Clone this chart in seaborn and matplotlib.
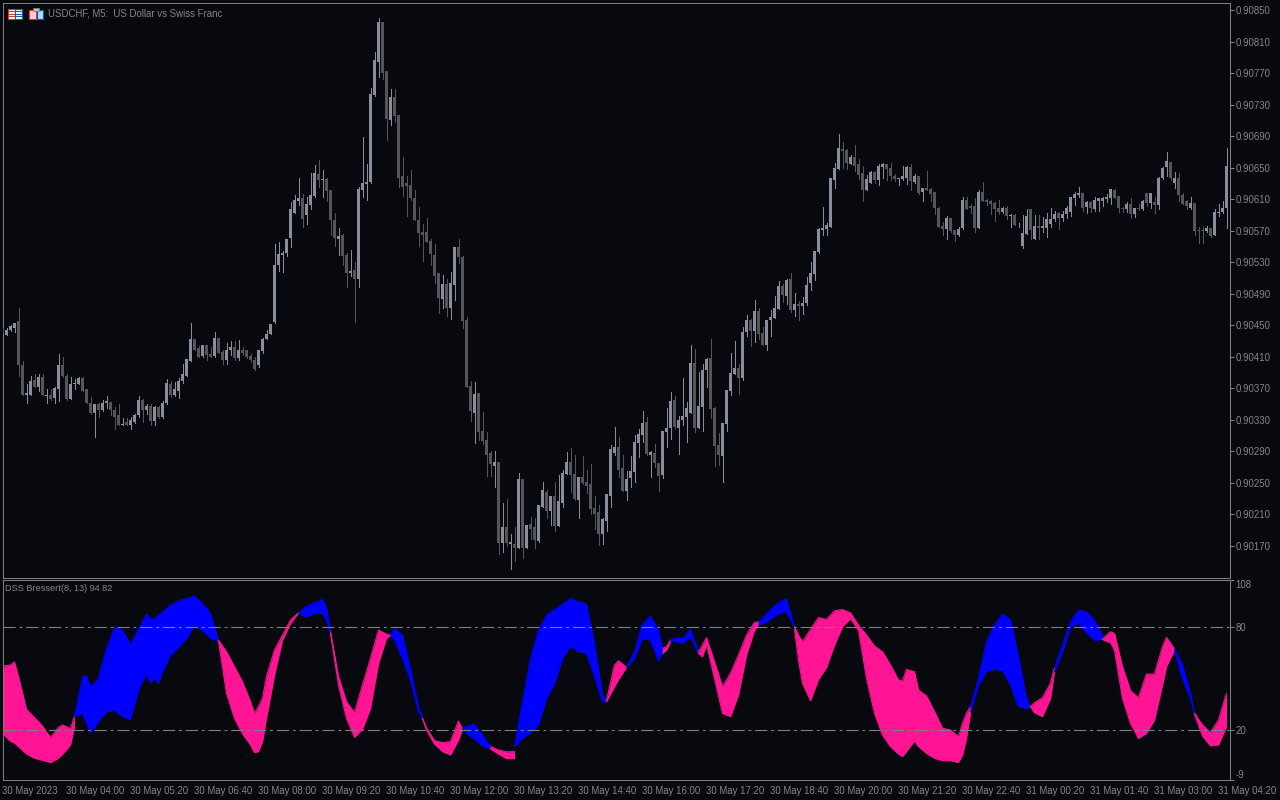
import numpy as np
import seaborn as sns
import matplotlib.pyplot as plt
from matplotlib.patches import Rectangle

# USDCHF M5 prices, in points (1 point = 0.00001)
opens = [
    90447,90438,90444,90446,90455,90400,90362,90362,90381,90372,
    90385,90360,90361,90358,90369,90400,90386,90357,90375,90376,
    90383,90369,90352,90339,90350,90342,90352,90353,90343,90336,
    90324,90327,90324,90327,90336,90355,90343,90348,90328,90346,
    90333,90351,90376,90362,90367,90379,90386,90405,90433,90421,
    90411,90425,90414,90411,90434,90416,90406,90418,90423,90408,
    90419,90418,90411,90406,90399,90417,90433,90439,90454,90527,
    90539,90542,90561,90593,90608,90611,90590,90602,90614,90642,
    90634,90635,90621,90583,90560,90564,90539,90516,90520,90509,
    90621,90629,90632,90742,90784,90835,90773,90710,90739,90717,
    90639,90630,90628,90612,90584,90568,90568,90557,90539,90516,
    90483,90502,90472,90501,90549,90537,90457,90373,90339,90364,
    90316,90304,90288,90272,90277,90174,90194,90172,90173,90167,
    90255,90167,90198,90194,90176,90220,90239,90215,90233,90195,
    90225,90261,90276,90261,90228,90257,90251,90248,90218,90213,
    90185,90202,90234,90288,90295,90269,90240,90256,90264,90301,
    90311,90327,90285,90288,90275,90260,90314,90320,90355,90320,
    90330,90334,90339,90402,90320,90346,90393,90408,90345,90298,
    90284,90325,90367,90388,90396,90383,90441,90457,90443,90468,
    90440,90425,90457,90459,90471,90500,90487,90509,90469,90477,
    90474,90478,90504,90515,90543,90571,90572,90575,90634,90648,
    90674,90673,90655,90664,90654,90643,90622,90631,90645,90634,
    90651,90654,90650,90640,90636,90636,90637,90651,90632,90640,
    90619,90624,90623,90619,90599,90576,90572,90586,90571,90565,
    90574,90609,90601,90601,90574,90619,90609,90608,90605,90599,
    90594,90599,90589,90590,90578,90551,90566,90598,90559,90576,
    90573,90574,90578,90585,90592,90586,90591,90594,90611,90615,
    90618,90600,90606,90597,90608,90608,90610,90611,90621,90614,
    90599,90597,90604,90591,90599,90597,90618,90605,90606,90602,
    90637,90651,90657,90630,90637,90615,90608,90599,90605,90571,
    90571,90569,90574,90564,90592,90594,90599,
]
highs = [
    90447,90447,90450,90453,90472,90405,90376,90386,90388,90388,
    90388,90369,90369,90372,90414,90410,90388,90384,90382,90385,
    90384,90369,90359,90350,90352,90355,90360,90353,90346,90350,
    90332,90332,90333,90337,90360,90356,90350,90350,90348,90347,
    90354,90382,90379,90378,90383,90401,90407,90453,90433,90424,
    90425,90425,90423,90442,90434,90419,90427,90430,90430,90431,
    90423,90419,90414,90410,90419,90434,90444,90452,90553,90556,
    90544,90560,90607,90615,90637,90616,90613,90643,90653,90660,
    90647,90637,90622,90593,90573,90566,90542,90546,90530,90626,
    90689,90654,90751,90797,90840,90835,90773,90750,90750,90717,
    90664,90639,90647,90622,90600,90579,90586,90560,90553,90516,
    90514,90509,90517,90549,90559,90538,90460,90379,90378,90364,
    90340,90315,90291,90291,90277,90225,90230,90185,90194,90263,
    90255,90197,90207,90205,90222,90251,90241,90233,90251,90260,
    90267,90289,90294,90286,90257,90284,90266,90274,90234,90222,
    90205,90236,90298,90321,90308,90285,90265,90284,90311,90319,
    90341,90333,90290,90299,90275,90316,90345,90365,90360,90335,
    90383,90353,90425,90420,90391,90401,90408,90433,90346,90313,
    90326,90368,90415,90430,90401,90448,90463,90458,90482,90472,
    90448,90457,90469,90487,90506,90502,90509,90516,90491,90481,
    90486,90511,90530,90544,90574,90600,90580,90637,90656,90693,
    90683,90674,90666,90679,90661,90652,90641,90646,90646,90655,
    90656,90655,90656,90642,90637,90652,90652,90655,90642,90640,
    90624,90646,90624,90619,90600,90581,90589,90586,90571,90575,
    90613,90613,90604,90612,90621,90632,90610,90609,90607,90609,
    90600,90601,90591,90591,90580,90590,90598,90598,90590,90590,
    90587,90592,90599,90595,90594,90595,90601,90613,90619,90625,
    90618,90608,90608,90613,90611,90613,90616,90623,90623,90614,
    90600,90606,90611,90599,90604,90609,90618,90618,90613,90638,
    90651,90670,90657,90644,90643,90618,90609,90613,90605,90575,
    90575,90576,90574,90597,90604,90608,90675,
]
lows = [
    90439,90438,90443,90441,90386,90362,90352,90362,90372,90367,
    90361,90352,90355,90352,90354,90384,90355,90357,90369,90375,
    90367,90351,90337,90308,90334,90341,90345,90336,90319,90323,
    90323,90323,90319,90326,90334,90327,90337,90324,90323,90332,
    90332,90350,90359,90360,90358,90377,90386,90405,90419,90410,
    90410,90406,90410,90410,90415,90401,90401,90412,90406,90406,
    90412,90409,90403,90393,90397,90415,90432,90439,90453,90519,
    90518,90538,90549,90593,90602,90575,90578,90597,90613,90626,
    90613,90608,90564,90550,90539,90527,90499,90512,90454,90499,
    90613,90609,90631,90741,90765,90762,90685,90704,90708,90626,
    90614,90589,90609,90583,90550,90532,90556,90526,90504,90466,
    90472,90462,90458,90482,90529,90447,90372,90329,90301,90304,
    90299,90259,90259,90245,90160,90162,90170,90141,90151,90167,
    90155,90167,90179,90167,90175,90220,90206,90197,90189,90195,
    90219,90261,90238,90228,90206,90248,90237,90211,90192,90171,
    90173,90189,90220,90286,90258,90240,90228,90245,90251,90283,
    90302,90285,90258,90270,90240,90256,90296,90306,90320,90287,
    90324,90302,90339,90314,90320,90316,90372,90332,90271,90273,
    90251,90316,90361,90388,90363,90380,90436,90424,90429,90433,
    90425,90419,90436,90459,90471,90480,90477,90467,90462,90457,
    90464,90476,90495,90508,90542,90565,90565,90575,90624,90648,
    90649,90648,90655,90646,90636,90608,90622,90631,90631,90628,
    90637,90634,90634,90633,90628,90634,90629,90621,90631,90617,
    90608,90621,90608,90591,90575,90565,90560,90568,90557,90563,
    90572,90598,90593,90568,90574,90608,90603,90591,90582,90591,
    90593,90585,90575,90577,90575,90548,90566,90560,90559,90559,
    90568,90562,90575,90582,90572,90582,90586,90588,90602,90613,
    90595,90592,90594,90595,90595,90601,90606,90604,90611,90594,
    90594,90594,90586,90587,90596,90596,90601,90599,90592,90597,
    90635,90639,90634,90624,90608,90604,90597,90597,90564,90555,
    90555,90568,90562,90564,90588,90592,90573,
]
closes = [
    90439,90444,90449,90453,90399,90362,90364,90379,90372,90384,
    90361,90361,90357,90370,90400,90386,90357,90375,90377,90383,
    90367,90351,90339,90350,90342,90351,90354,90343,90334,90324,
    90325,90324,90330,90336,90355,90343,90348,90328,90346,90333,
    90351,90377,90362,90369,90379,90388,90407,90433,90419,90410,
    90425,90412,90410,90434,90415,90406,90419,90423,90408,90419,
    90415,90410,90406,90395,90419,90433,90439,90452,90526,90540,
    90542,90560,90597,90609,90612,90585,90604,90615,90643,90634,
    90635,90620,90583,90561,90563,90538,90516,90519,90509,90623,
    90631,90632,90744,90786,90835,90770,90712,90739,90715,90637,
    90626,90627,90611,90583,90567,90565,90556,90540,90512,90484,
    90502,90472,90503,90549,90537,90455,90372,90341,90363,90315,
    90303,90285,90274,90277,90174,90194,90174,90175,90168,90255,
    90167,90196,90192,90177,90222,90241,90215,90233,90195,90227,
    90262,90276,90260,90229,90257,90250,90246,90217,90211,90185,
    90204,90236,90293,90295,90267,90240,90255,90265,90302,90312,
    90326,90287,90289,90275,90259,90316,90320,90354,90321,90330,
    90335,90345,90402,90320,90348,90393,90407,90344,90297,90285,
    90326,90368,90389,90396,90383,90441,90457,90443,90468,90439,
    90425,90457,90461,90472,90500,90488,90507,90469,90477,90474,
    90478,90501,90516,90544,90572,90574,90577,90637,90650,90675,
    90671,90656,90664,90652,90641,90622,90636,90645,90634,90652,
    90655,90648,90640,90636,90637,90640,90651,90633,90640,90618,
    90624,90622,90617,90599,90575,90572,90586,90570,90565,90572,
    90609,90598,90599,90574,90619,90608,90607,90604,90598,90594,
    90599,90589,90590,90577,90579,90567,90589,90571,90576,90573,
    90576,90585,90585,90591,90586,90591,90599,90613,90616,90618,
    90599,90606,90599,90609,90611,90611,90613,90623,90611,90599,
    90597,90604,90591,90599,90597,90608,90605,90618,90602,90637,
    90649,90658,90637,90637,90615,90604,90601,90605,90569,90569,
    90569,90574,90563,90594,90594,90599,90652,
]

# DSS band outline. A repeated bar marks where the colour flips, runs alternate pink/blue
dss_bars = [
    0,2,3,4,6,8,10,12,14,15,17,18,
    18,20,21,22,24,26,28,30,32,34,36,37,38,39,40,42,44,46,48,50,52,54,
    54,56,58,60,62,63,64,65,66,68,70,72,74,
    74,76,78,80,81,82,
    82,84,86,88,90,92,94,96,97,
    97,98,100,102,104,105,
    105,106,108,110,112,114,115,
    115,116,118,120,122,
    122,124,126,128,
    128,130,132,134,136,138,140,142,144,146,148,150,151,
    151,153,154,156,
    156,158,160,162,164,165,
    165,166,167,
    167,168,170,172,174,
    174,175,176,178,180,182,184,186,188,189,
    189,191,193,195,196,198,
    198,199,200,202,204,206,208,210,212,214,216,218,220,222,224,225,226,228,229,231,233,235,237,239,240,241,242,
    242,244,246,248,250,252,254,256,257,
    257,258,260,262,263,
    263,265,267,269,271,273,275,
    275,277,278,280,282,284,286,288,290,291,293,
    293,295,297,298,
    298,300,302,304,306,
]
dss_top = [
    57.5,58.1,59.8,51.3,32.2,27.4,22.5,15.7,21.7,23.1,21,28,
    28,51.3,51.7,45.4,50.3,67.8,80,78.8,69.7,79.4,87.8,84.7,85.2,87.2,89.1,93,95.5,96.9,98.3,94,88.2,72.6,
    72.6,65.8,57.1,48.3,36.7,29.9,33.8,38.6,51.3,66.8,75.5,84.3,88.5,
    88.5,92.4,94.4,96.3,91.7,77.5,
    77.5,51.3,36.7,30.3,46.4,61.9,78.4,76.1,75.5,
    75.5,79.4,75.5,55.1,33.8,27,
    27,21.2,14,12.8,13.4,25.4,20.6,
    20.6,22.5,23.5,17.3,10.5,
    10.5,8.5,7.4,7.6,
    10.5,36.7,61.9,78.4,87.2,90.5,93.6,96.9,95,93.6,70.7,40.6,37.3,
    37.3,58,60.6,56.7,
    56.7,65.8,82,86.6,78.4,67.8,
    67.8,68.7,72.6,
    72.6,73.6,73.6,78.8,65.8,
    65.8,69.7,74,60,45.4,53.2,63.9,75.5,82.9,83.3,
    82.7,88.2,92.6,95.9,96.5,80.4,
    80.4,75.5,71.7,78.8,85.8,84.7,89.7,90.5,88.5,81.4,75.5,69.1,65.8,58.1,49.3,48.7,55.5,54.2,43.5,40,30.9,21.2,20.2,16.3,24.1,29.9,33.8,
    33.8,50.3,71.7,81.4,87.8,84.7,62.9,38.6,33.8,
    33.8,36.1,39,47.4,56.5,
    56.5,69.7,83.3,90.1,89.1,84.3,75.5,
    73.2,77.5,76.5,57.1,43.1,39,52.8,52.8,68.7,74.2,67.4,
    67.4,58.1,41.6,29.9,
    29.9,23.1,18.6,26,41.6,
]
dss_bottom = [
    18.3,13.6,12.6,10.5,6.2,3.7,2.5,1.2,3.7,6,11.5,22.1,
    28,29.9,24,18.6,25,30.9,31.8,28,26.4,43.5,53.2,47.4,50.9,47.4,54.2,63.9,68.3,73.6,81.4,78.4,73.6,72.2,
    72.2,41.6,27,17.9,11.5,7,7.6,13.4,27,52.2,72.6,82.3,88.5,
    88.5,86.2,88.2,88.2,84.3,76.5,
    76.5,46.4,27,15.9,20.6,32.8,59,73.6,75.5,
    75.5,72.6,61.9,49.3,30.9,27,
    27,20.2,12,7.6,5.6,14.4,20.6,
    20.6,18.3,14.8,10.9,9.1,
    9.1,6.2,3.5,3.5,
    10.5,15.3,18.3,23.1,38.6,47,61.9,69.1,65.8,64.9,51.3,36.7,36.7,
    36.7,45.4,49.7,56.7,
    56.7,61.9,73.6,72.6,60.6,64.9,
    64.9,66.8,71.5,
    71.5,72.2,70.7,74.6,64.9,
    64.9,62.9,70.3,50.3,29.9,28,40.6,63.9,78.4,81.7,
    81.4,83.3,86.6,89.1,89.1,80.4,
    78.8,61,47.4,37.3,49.7,56.7,69.7,80.4,85.2,78.4,50.3,29.9,17.3,10.5,6.2,4.7,7.6,13.8,10.5,6.6,3.7,2.3,2.3,1.2,5.6,15.3,30.3,
    30.9,46.4,54.2,55.7,54.8,46.4,33.8,32.8,33.8,
    33.8,30.3,28,38.6,54.2,
    54.2,65.8,80.4,82.7,76.9,72.6,73,
    73,71,66.8,38.6,24.1,15.3,18.3,26,46.4,57.1,66.8,
    66.8,50.3,38.6,29.5,
    29.5,16.7,10.9,11.5,22.1,
]

price_ticks = [90850,90810,90770,90730,90690,90650,90610,90570,90530,90490,
               90450,90410,90370,90330,90290,90250,90210,90170]
dss_ticks = [108, 80, 20, -9]
time_labels = ["30 May 2023","30 May 04:00","30 May 05:20","30 May 06:40","30 May 08:00",
               "30 May 09:20","30 May 10:40","30 May 12:00","30 May 13:20","30 May 14:40",
               "30 May 16:00","30 May 17:20","30 May 18:40","30 May 20:00","30 May 21:20",
               "30 May 22:40","31 May 00:20","31 May 01:40","31 May 03:00","31 May 04:20"]

BG = "#08090e"
FRAME = "#808084"
TXT = "#85858a"
LIGHT = "#8c8d9a"
DARK = "#55555a"
PINK = "#ff1493"
BLUE = "#0000ff"
W, H = 1280, 800

sns.set_theme(style="dark", rc={"figure.facecolor": BG, "axes.facecolor": BG, "axes.edgecolor": FRAME,
                                "axes.linewidth": 0.72, "xtick.color": FRAME, "ytick.color": FRAME,
                                "text.color": TXT, "xtick.labelcolor": TXT, "ytick.labelcolor": TXT})
plt.rcParams["font.family"] = ["Liberation Sans", "DejaVu Sans"]


def px_axes(x0, y0, x1, y1):
    return fig.add_axes([x0 / W, 1 - y1 / H, (x1 - x0) / W, (y1 - y0) / H])


fig = plt.figure(figsize=(12.8, 8), dpi=100)
ax = px_axes(2.5, 2.5, 1229.5, 577.5)
ax2 = px_axes(2.5, 579.5, 1229.5, 780)

# candles
o, h, l, c = [np.array(v) / 1e5 for v in (opens, highs, lows, closes)]
n = np.arange(len(o))
up = c >= o
for mask, col in ((up, LIGHT), (~up, DARK)):
    ax.vlines(n[mask], l[mask], h[mask], color=col, lw=0.72, zorder=2, antialiased=False)
    ax.bar(n[mask], np.maximum(np.abs(c[mask] - o[mask]), 0.00001), bottom=np.minimum(o[mask], c[mask]),
           width=0.8, color=col, linewidth=0, zorder=3, antialiased=False)
ax.set_xlim(0, 306.75)
ax.set_ylim(0.90130, 0.908595)
ax.set_yticks(np.array(price_ticks) / 1e5)
ax.set_yticklabels([f"{t / 1e5:.5f}" for t in price_ticks])
ax.set_xticks([])

# DSS band, one fill per colour run
bars = np.array(dss_bars, dtype=float)
top = np.array(dss_top)
bottom = np.array(dss_bottom)
cuts = np.where(np.diff(bars) == 0)[0] + 1
for k, (xs, t, b) in enumerate(zip(np.split(bars, cuts), np.split(top, cuts), np.split(bottom, cuts))):
    col = PINK if k % 2 == 0 else BLUE
    ax2.fill_between(xs, b, t, color=col, linewidth=0, zorder=2)
    sns.lineplot(x=xs, y=t, color=col, lw=0.8, estimator=None, sort=False, ax=ax2, zorder=3)
    sns.lineplot(x=xs, y=b, color=col, lw=0.8, estimator=None, sort=False, ax=ax2, zorder=3)

for lev in (80, 20):
    ax2.axhline(lev, color=FRAME, lw=0.8, ls=(0, (11, 3.5, 2.5, 3.5)), zorder=4)
ax2.set_xlim(0, 306.75)
ax2.set_ylim(-9, 108)
ax2.set_yticks(dss_ticks)
ax2.set_yticklabels([str(t) for t in dss_ticks])
ax2.set_xticks(np.arange(0, 305, 16))
ax2.set_xticklabels(time_labels, ha="left")
ax2.tick_params(axis="x", length=3.5, width=0.72, labelsize=6.9, pad=0.5)
ax2.set_xlabel("")
ax2.set_ylabel("")

for a in (ax, ax2):
    a.yaxis.tick_right()
    a.tick_params(axis="y", length=3, width=0.72, labelsize=6.9, pad=1.5, right=True, left=False)
    a.grid(False)
    for s in a.spines.values():
        s.set_visible(True)
        s.set_color(FRAME)

# first and last pane labels sit inside the pane
pane_ticks = ax2.yaxis.get_major_ticks()
pane_ticks[0].label2.set_verticalalignment("top")
pane_ticks[-1].label2.set_verticalalignment("bottom")

fig.text(48 / W, 1 - 13.5 / H, "USDCHF, M5:  US Dollar vs Swiss Franc", fontsize=6.9, color=TXT, va="center")
fig.text(5 / W, 1 - 588.5 / H, "DSS Bressert(8, 13) 94 82", fontsize=6.6, color=TXT, va="center")

# the two little toolbar icons of the terminal
icons = px_axes(0, 0, W, H)
icons.set_xlim(0, W)
icons.set_ylim(H, 0)
icons.set_axis_off()
icons.patch.set_alpha(0)
icons.add_patch(Rectangle((7.5, 8.5), 7, 10, fc="#ffffff", ec="#e03030", lw=0.8))
icons.add_patch(Rectangle((14.5, 8.5), 7, 10, fc="#ffffff", ec="#0060b0", lw=0.8))
for yy in (11, 13.5, 16):
    icons.plot([9, 14], [yy, yy], color="#e03030", lw=0.8)
    icons.plot([16, 20.5], [yy, yy], color="#0060b0", lw=0.8)
icons.add_patch(Rectangle((28.5, 9.5), 7, 9, fc="#ffd0d0", ec="#e03030", lw=0.8))
icons.add_patch(Rectangle((36.5, 9.5), 6.5, 9, fc="#a8dcff", ec="#0060b0", lw=0.8))
icons.add_patch(Rectangle((32.5, 8), 6, 3, fc="#c0c0c0", ec="#808080", lw=0.6))

fig.savefig("out.png", dpi=100, facecolor=BG)
